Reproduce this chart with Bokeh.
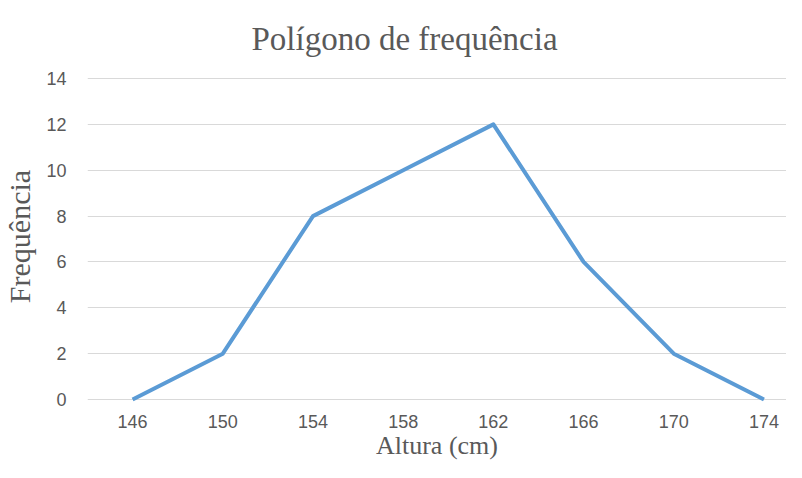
from bokeh.plotting import figure
from bokeh.models import FixedTicker, Range1d
from bokeh.embed import file_html
from bokeh.resources import INLINE

alturas = [146, 150, 154, 158, 162, 166, 170, 174]
frequencias = [0, 2, 8, 10, 12, 6, 2, 0]
y_ticks = [0, 2, 4, 6, 8, 10, 12, 14]

p = figure(width=786, height=462, output_backend="svg", toolbar_location=None,
           x_range=Range1d(144, 175.0), y_range=Range1d(-0.13, 14.35),
           min_border_left=83, min_border_right=0, min_border_top=70, min_border_bottom=10)

p.title.text = "Polígono de frequência"
p.title.align = "left"
p.title.text_font = "Liberation Serif"
p.title.text_font_size = "33px"
p.title.text_font_style = "normal"
p.title.text_color = "#595959"
p.title.offset = 164
p.title.standoff = 28

p.line(alturas, frequencias, line_color="#5b9bd5", line_width=4, line_join="round")

p.outline_line_color = None
p.xgrid.grid_line_color = None
p.ygrid.grid_line_color = "#d9d9d9"
p.ygrid.grid_line_width = 1.2
p.xaxis.ticker = FixedTicker(ticks=alturas)
p.yaxis.ticker = FixedTicker(ticks=y_ticks)

for ax in (p.xaxis[0], p.yaxis[0]):
    ax.axis_line_color = None
    ax.major_tick_line_color = None
    ax.minor_tick_line_color = None
    ax.major_label_text_font = "Liberation Sans"
    ax.major_label_text_font_size = "18px"
    ax.major_label_text_color = "#595959"
    ax.axis_label_text_font = "Liberation Serif"
    ax.axis_label_text_font_style = "normal"
    ax.axis_label_text_color = "#595959"

p.xaxis.axis_label = "Altura (cm)"
p.yaxis.axis_label = "Frequência"
p.xaxis.axis_label_text_font_size = "26px"
p.yaxis.axis_label_text_font_size = "30px"
p.xaxis.major_tick_out = 0
p.xaxis.major_label_standoff = 12
p.yaxis.major_label_standoff = 15
p.xaxis.axis_label_standoff = 0
p.yaxis.axis_label_standoff = 7

open("out.html", "w").write(file_html(p, INLINE))
